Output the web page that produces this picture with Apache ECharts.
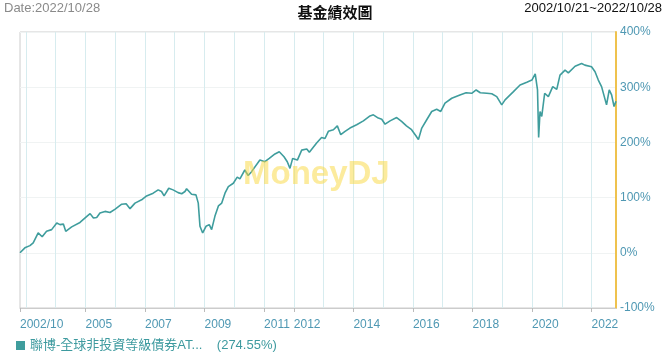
<!DOCTYPE html>
<html>
<head>
<meta charset="utf-8">
<script src="https://cdn.jsdelivr.net/npm/echarts@6/dist/echarts.min.js"></script>
<style>
html,body{margin:0;padding:0;background:#fff;}
#chart{width:670px;height:363px;}
</style>
</head>
<body>
<div id="chart"></div>
<script>
// ---- data ----
const seriesName = '聯博-全球非投資等級債券AT...';
const finalReturn = '274.55%';
const dates = [
'2002-10-21','2002-12-20','2003-02-20','2003-04-01','2003-06-01','2003-07-20','2003-09-12','2003-11-13',
'2004-01-15','2004-02-24','2004-04-05','2004-05-04','2004-07-16','2004-10-26',
'2005-01-18','2005-02-27','2005-04-09','2005-05-19','2005-06-28','2005-08-29','2005-10-29',
'2006-01-01','2006-03-22','2006-05-15','2006-07-02','2006-09-01','2006-11-21',
'2007-01-21','2007-04-12','2007-06-12','2007-07-23','2007-08-24','2007-10-20','2007-12-12',
'2008-02-12','2008-03-27','2008-05-06','2008-05-26','2008-07-26','2008-09-18','2008-10-16','2008-11-06','2008-12-09','2008-12-25',
'2009-01-19','2009-02-28','2009-03-29','2009-05-08','2009-06-20','2009-07-31','2009-09-09','2009-10-20','2009-12-20',
'2010-02-06','2010-03-11','2010-05-10','2010-06-20','2010-08-01','2010-11-11',
'2011-01-11','2011-03-06','2011-05-15','2011-07-07','2011-09-03','2011-10-13','2011-11-15','2011-12-18',
'2012-02-14','2012-04-07','2012-06-08','2012-07-10','2012-10-07','2012-12-07',
'2013-01-18','2013-02-28','2013-05-01','2013-06-18','2013-07-30','2013-09-21','2013-11-20',
'2014-02-10','2014-05-04','2014-07-24','2014-09-03','2014-11-03','2014-12-15',
'2015-01-25','2015-03-27','2015-06-16','2015-08-15','2015-10-14','2015-12-16',
'2016-02-07','2016-03-09','2016-04-19','2016-06-19','2016-08-19','2016-10-19','2016-12-08',
'2017-01-29','2017-04-22','2017-07-31','2017-10-15','2017-12-23',
'2018-02-15','2018-04-07','2018-06-26','2018-08-26','2018-10-26','2018-12-26',
'2019-02-05','2019-05-19','2019-08-08','2019-10-30','2019-12-31',
'2020-02-10','2020-02-21','2020-03-09','2020-03-23','2020-04-09','2020-04-30','2020-06-05','2020-07-20','2020-09-12','2020-10-31','2020-12-10',
'2021-02-10','2021-03-22','2021-06-13','2021-09-01','2021-10-11',
'2022-01-01','2022-02-13','2022-03-25','2022-05-04','2022-07-04','2022-08-06','2022-09-04','2022-10-04','2022-10-28'
];
const values = [
0,9,13,18,36,29,39,42,
54,51,52,39,47,55,
66,71,63,64,72,75,73,
79,88,89,80,90,96,
103,108,114,111,103,117,114,
109,107,111,116,106,105,90,48,36,39,
48,51,42,66,85,90,108,120,126,
137,134,150,140,147,168,
165,171,179,183,174,165,153,171,
168,186,188,182,199,209,
207,220,223,230,214,220,226,
232,239,248,250,244,242,
233,239,245,238,230,223,
212,205,226,241,256,260,256,
271,280,286,290,289,
295,290,289,288,283,268,
277,292,304,309,313,
324,325,295,209,256,247,289,283,301,296,322,
331,326,338,343,340,
337,328,313,301,268,295,286,265,274.55
];
const tickDates = ['2002-10-21','2005-01-01','2007-01-01','2009-01-01','2011-01-01','2012-01-01','2014-01-01','2016-01-01','2018-01-01','2020-01-01','2022-01-01'];
const tickLabels = ['2002/10','2005','2007','2009','2011','2012','2014','2016','2018','2020','2022'];
const gridYears = ['2003-01-01','2004-01-01','2005-01-01','2006-01-01','2007-01-01','2008-01-01','2009-01-01','2010-01-01','2011-01-01','2012-01-01','2013-01-01','2014-01-01','2015-01-01','2016-01-01','2017-01-01','2018-01-01','2019-01-01','2020-01-01','2021-01-01','2022-01-01'];
const yTicks = [-100, 0, 100, 200, 300, 400];
const startDate = '2002-10-21', endDate = '2022-10-28';

// ---- chart ----
const ts = d => new Date(d + 'T00:00:00Z').getTime();
const chart = echarts.init(document.getElementById('chart'));
const FONT = '"Liberation Sans", Arial, "Noto Sans CJK TC", sans-serif';
const tickTs = tickDates.map(ts);
const option = {
  animation: false,
  textStyle: { fontFamily: FONT },
  grid: { left: 20, right: 54, top: 32, bottom: 55, show: true, borderColor: '#cccccc', borderWidth: 1 },
  graphic: [
    { type: 'text', left: 4, top: 2, style: { text: 'Date:' + endDate.replace(/-/g, '/'), fill: '#8a8a8a', font: '13px ' + FONT } },
    { type: 'text', right: 8, top: 2, style: { text: startDate.replace(/-/g, '/') + '~' + endDate.replace(/-/g, '/'), fill: '#111', font: '13px ' + FONT } },
    { type: 'text', left: 'center', top: 5, style: { text: '基金績效圖', fill: '#111', font: 'bold 15px "Noto Sans CJK TC", sans-serif' } },
    { type: 'text', left: 243, top: 158, z: 100, style: { text: 'MoneyDJ', fill: 'rgba(250,215,60,0.5)', font: 'bold 33px "Liberation Sans", Arial, sans-serif' } }
  ],
  legend: {
    left: 11, top: 334, icon: 'rect', itemWidth: 9, itemHeight: 9, itemGap: 10,
    data: [seriesName],
    formatter: n => n + '    (' + finalReturn + ')',
    textStyle: { color: '#3d9a9f', fontSize: 13, fontFamily: FONT, padding: [10, 0, 0, 0] }
  },
  xAxis: [
    {
      type: 'value', min: ts(startDate), max: ts(endDate), position: 'bottom',
      axisLine: { show: true, onZero: false, lineStyle: { color: '#cccccc' } },
      axisTick: { show: true, length: 4, customValues: tickTs, lineStyle: { color: '#bbbbbb' } },
      axisLabel: {
        customValues: tickTs, align: 'left', margin: 11, color: '#4f98b3', fontSize: 12, fontFamily: FONT,
        formatter: v => { const i = tickTs.indexOf(v); return i >= 0 ? tickLabels[i] : ''; }
      },
      splitLine: { show: false }
    },
    {
      type: 'value', min: ts(startDate), max: ts(endDate), position: 'bottom',
      axisLine: { show: false, onZero: false }, axisLabel: { show: false },
      axisTick: { show: false, customValues: gridYears.map(ts) },
      splitLine: { show: true, lineStyle: { color: '#d7ecef', width: 1 } }
    }
  ],
  yAxis: {
    type: 'value', position: 'right', min: -100, max: 400, interval: 100,
    axisLine: { show: true, lineStyle: { color: '#efc24e', width: 2 } },
    axisTick: { show: false },
    axisLabel: { color: '#4f98b3', fontSize: 12, margin: 4, formatter: '{value}%', fontFamily: FONT },
    splitLine: { show: true, lineStyle: { color: '#f0f3f3' } }
  },
  series: [{
    name: seriesName, type: 'line', xAxisIndex: 0, showSymbol: false, symbol: 'none',
    lineStyle: { color: '#3f9d9d', width: 1.6 }, itemStyle: { color: '#3f9d9d' },
    data: dates.map((d, i) => [ts(d), values[i]])
  }]
};
chart.setOption(option);
</script>
</body>
</html>
